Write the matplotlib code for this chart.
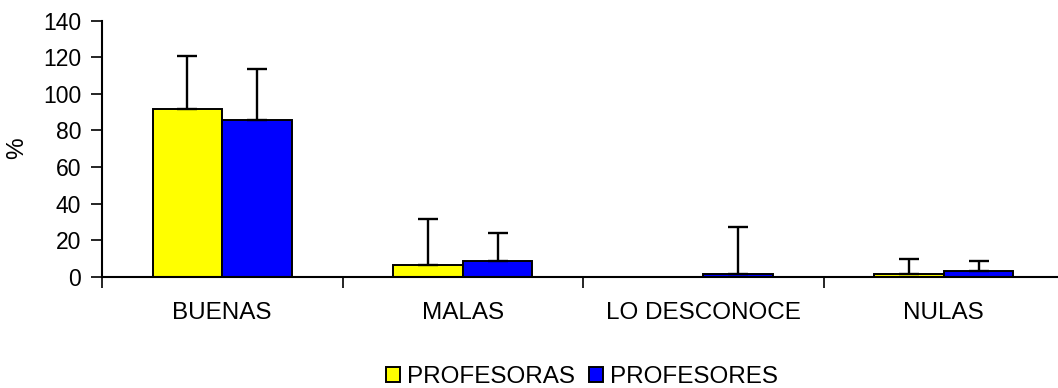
import matplotlib
matplotlib.use("Agg")
import matplotlib.pyplot as plt
import numpy as np
from matplotlib.patches import Patch

plt.rcParams['font.family'] = ['Liberation Sans', 'DejaVu Sans']

#-----------Data------------
categories = ["BUENAS", "MALAS", "LO DESCONOCE", "NULAS"]
profesoras = [91.5, 6.2, 0.0, 1.7]
profesoras_err = [29.0, 25.3, 0.0, 8.0]
profesores = [85.5, 8.7, 1.7, 3.0]
profesores_err = [28.3, 15.3, 25.3, 5.7]
series_names = ["PROFESORAS", "PROFESORES"]

#-----------Plot------------
fig = plt.figure(figsize=(10.58, 3.88), dpi=100)
# last category runs past the right edge of the figure, like the original
ax = fig.add_axes([102/1058, 1 - 276.7/388, (4*240.5)/1058, (276.7-20.7)/388])

x = np.arange(len(categories))
w = 0.29
fs = 17.5

ax.bar(x - w/2, profesoras, w, color="#ffff00", edgecolor="black", linewidth=1.4, zorder=2)
ax.bar(x + w/2, profesores, w, color="#0000ff", edgecolor="black", linewidth=1.4, zorder=2)

# error bars only upward, skip zero ones
for xs, vals, errs in [(x - w/2, profesoras, profesoras_err), (x + w/2, profesores, profesores_err)]:
    vals = np.array(vals)
    errs = np.array(errs)
    m = errs > 0
    ax.errorbar(xs[m], vals[m], yerr=[np.zeros(m.sum()), errs[m]], fmt="none",
                ecolor="black", elinewidth=1.7, capsize=7, capthick=1.7, zorder=3)

ax.set_xlim(-0.5, len(categories) - 0.5)
ax.set_ylim(0, 140)
ax.set_yticks(np.arange(0, 141, 20))
ax.set_xticks(x)
ax.set_xticklabels(categories, fontsize=fs)
ax.set_xticks(np.arange(-0.5, len(categories), 1), minor=True)
ax.tick_params(axis="x", which="major", length=0, pad=18)
ax.tick_params(axis="x", which="minor", length=8, width=1.2, direction="out")
ax.tick_params(axis="y", length=8, width=1.2, direction="out", labelsize=16.5, pad=7)
for s in ["top", "right"]:
    ax.spines[s].set_visible(False)
for s in ["left", "bottom"]:
    ax.spines[s].set_linewidth(1.5)

fig.text(17/1058, 1 - 148/388, "%", rotation=90, fontsize=fs, ha="center", va="center")

handles = [Patch(facecolor="#ffff00", edgecolor="black", linewidth=1.4),
           Patch(facecolor="#0000ff", edgecolor="black", linewidth=1.4)]
fig.legend(handles, series_names, loc="center", bbox_to_anchor=(582/1058, 1 - 377/388),
           ncol=2, frameon=False, fontsize=fs, handlelength=0.58, handleheight=0.58,
           handletextpad=0.3, columnspacing=0.55, borderpad=0)

fig.savefig("out.png", dpi=100)
